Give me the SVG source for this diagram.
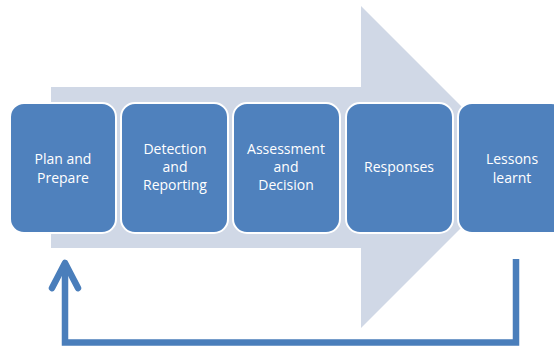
<svg xmlns="http://www.w3.org/2000/svg" width="554" height="347" viewBox="0 0 554 347">
<style>
.box{fill:#4f81bd;stroke:#ffffff;stroke-width:2}
.lbl{font-family:"Open Sans","Liberation Sans",sans-serif;font-size:14px;fill:#ffffff;text-anchor:middle}
.fb{fill:none;stroke:#4a7ebb;stroke-width:6.5}
</style>
<rect width="554" height="347" fill="#ffffff"/>
<polygon id="big-arrow" points="51,87 361,87 361,6 522,167 361,328 361,248 51,248" fill="#d0d8e6"/>
<g id="node-plan">
<rect class="box" x="10" y="103" width="106" height="130" rx="14"/>
<text class="lbl" x="63" y="164">Plan and</text>
<text class="lbl" x="63" y="183">Prepare</text>
</g>
<g id="node-detection">
<rect class="box" x="121" y="103" width="107" height="130" rx="14"/>
<text class="lbl" x="175" y="154">Detection</text>
<text class="lbl" x="175" y="172">and</text>
<text class="lbl" x="175" y="190">Reporting</text>
</g>
<g id="node-assessment">
<rect class="box" x="233" y="103" width="107" height="130" rx="14"/>
<text class="lbl" x="286" y="154">Assessment</text>
<text class="lbl" x="286" y="172">and</text>
<text class="lbl" x="286" y="190">Decision</text>
</g>
<g id="node-responses">
<rect class="box" x="346" y="103" width="107" height="130" rx="14"/>
<text class="lbl" x="399" y="172">Responses</text>
</g>
<g id="node-lessons">
<rect class="box" x="458" y="103" width="107" height="130" rx="14"/>
<text class="lbl" x="512" y="164">Lessons</text>
<text class="lbl" x="512" y="183">learnt</text>
</g>
<g id="connectors">
<path class="fb" d="M516,259 V342.5 H65 V264"/>
<polyline class="fb" points="52,288 65,263 78,288" stroke-linecap="round" stroke-linejoin="round"/>
</g>
</svg>
